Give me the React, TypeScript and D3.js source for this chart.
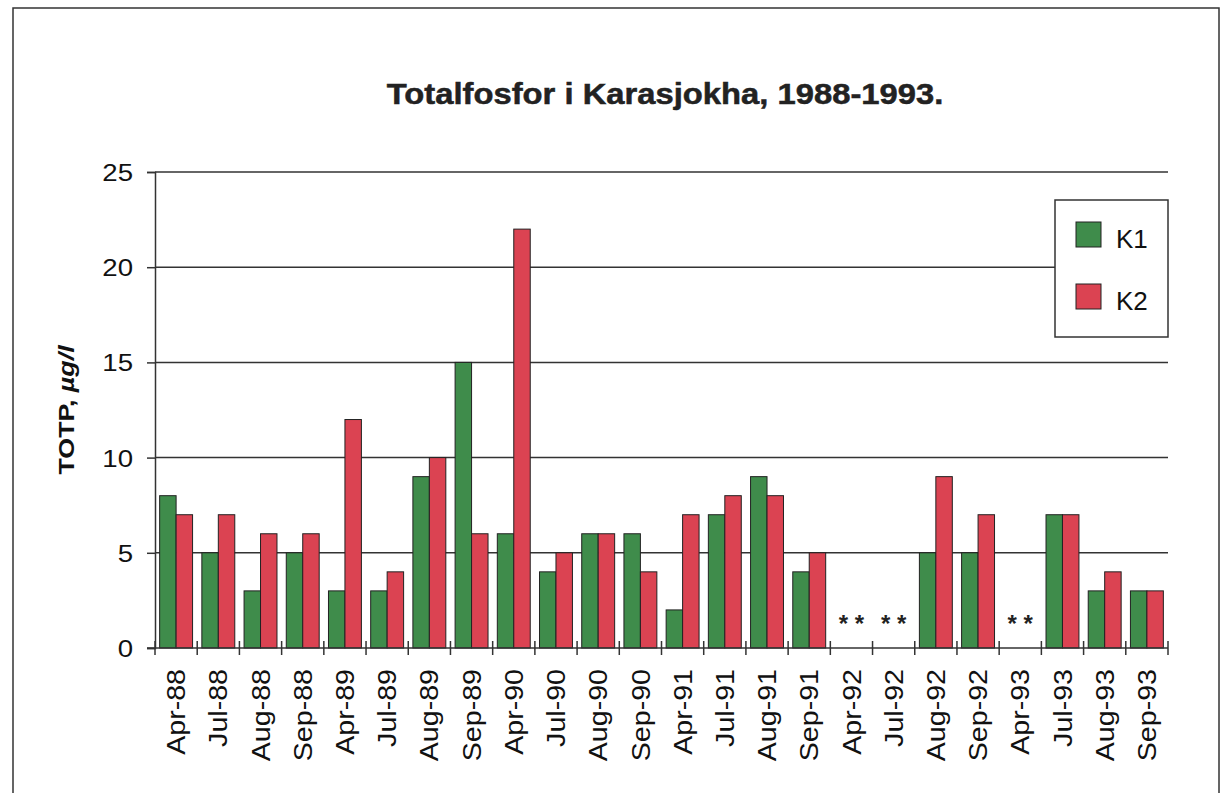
import React, { useRef, useEffect } from 'react';
import * as d3 from 'd3';

const categories = [
  'Apr-88', 'Jul-88', 'Aug-88', 'Sep-88',
  'Apr-89', 'Jul-89', 'Aug-89', 'Sep-89',
  'Apr-90', 'Jul-90', 'Aug-90', 'Sep-90',
  'Apr-91', 'Jul-91', 'Aug-91', 'Sep-91',
  'Apr-92', 'Jul-92', 'Aug-92', 'Sep-92',
  'Apr-93', 'Jul-93', 'Aug-93', 'Sep-93',
];

// null = no sample (shown as ** in the original)
const k1 = [8, 5, 3, 5, 3, 3, 9, 15, 6, 4, 6, 6, 2, 7, 9, 4, null, null, 5, 5, null, 7, 3, 3];
const k2 = [7, 7, 6, 6, 12, 4, 10, 6, 22, 5, 6, 4, 7, 8, 8, 5, null, null, 9, 7, null, 7, 4, 3];

const seriesNames = ['K1', 'K2'];
const yTicks = [0, 5, 10, 15, 20, 25];

const title = 'Totalfosfor i Karasjokha, 1988-1993.';

const colors: Record<string, string> = { K1: '#3f8c4b', K2: '#db4352' };
const font = '"Liberation Sans", Arial, Helvetica, sans-serif';

const App = () => {
  const ref = useRef<SVGSVGElement | null>(null);

  const width = 1222;
  const height = 793;

  useEffect(() => {
    if (!ref.current) return;

    const margin = { top: 172, right: 54, bottom: 145, left: 155 };
    const x0 = margin.left;
    const x1 = width - margin.right;
    const yBase = height - margin.bottom;

    const svg = d3.select(ref.current);
    svg.selectAll('*').remove();

    const rows = categories.map((c, i) => ({ name: c, K1: k1[i], K2: k2[i] }));

    const x = d3
      .scaleBand<string>()
      .domain(categories)
      .range([x0, x1])
      .paddingInner(0.22)
      .paddingOuter(0.11);

    const xs = d3.scaleBand<string>().domain(seriesNames).range([0, x.bandwidth()]);

    const y = d3.scaleLinear().domain([0, 25]).range([yBase, margin.top]);

    // outer frame
    svg
      .append('rect')
      .attr('x', 13)
      .attr('y', 8)
      .attr('width', 1206)
      .attr('height', 900)
      .attr('fill', 'none')
      .attr('stroke', '#333')
      .attr('stroke-width', 1.5);

    // title
    svg
      .append('text')
      .attr('transform', 'translate(665,104) scale(1.13,1)')
      .attr('text-anchor', 'middle')
      .attr('font-family', font)
      .attr('font-weight', 'bold')
      .attr('font-size', 29)
      .attr('fill', '#222')
      .attr('stroke', '#222')
      .attr('stroke-width', 0.5)
      .text(title);

    // gridlines
    svg
      .append('g')
      .selectAll('line')
      .data(yTicks.filter((t) => t > 0))
      .join('line')
      .attr('x1', x0)
      .attr('x2', x1)
      .attr('y1', (d) => y(d))
      .attr('y2', (d) => y(d))
      .attr('stroke', '#333')
      .attr('stroke-width', 1.5);

    // bars
    svg
      .append('g')
      .selectAll('g')
      .data(rows)
      .join('g')
      .attr('transform', (d) => `translate(${x(d.name)},0)`)
      .selectAll('rect')
      .data((d) =>
        seriesNames
          .map((key) => ({ key, value: (d as any)[key] as number | null }))
          .filter((v) => v.value !== null)
      )
      .join('rect')
      .attr('x', (d) => xs(d.key) || 0)
      .attr('y', (d) => y(d.value as number))
      .attr('width', xs.bandwidth())
      .attr('height', (d) => yBase - y(d.value as number))
      .attr('fill', (d) => colors[d.key])
      .attr('stroke', '#222')
      .attr('stroke-width', 1);

    // missing samples
    svg
      .append('g')
      .selectAll('text')
      .data(rows.filter((r) => r.K1 === null && r.K2 === null))
      .join('text')
      .attr('x', (d) => (x(d.name) || 0) + x.bandwidth() / 2)
      .attr('y', yBase - 16)
      .attr('text-anchor', 'middle')
      .attr('font-family', font)
      .attr('font-weight', 'bold')
      .attr('font-size', 24)
      .attr('fill', '#222')
      .text('* *');

    // y axis
    const yAxis = svg
      .append('g')
      .attr('transform', `translate(${x0},0)`)
      .call(d3.axisLeft(y).tickValues(yTicks).tickSize(8).tickFormat(d3.format('d')));
    yAxis.select('.domain').attr('stroke', '#333').attr('stroke-width', 1.5);
    yAxis.selectAll('.tick line').attr('stroke', '#333').attr('stroke-width', 1.5);
    yAxis
      .selectAll('.tick text')
      .attr('x', 0)
      .attr('dy', '0.35em')
      .attr('transform', 'translate(-22,0) scale(1.15,1)')
      .attr('font-family', font)
      .attr('font-size', 24)
      .attr('fill', '#111');

    // x axis line with cross ticks on category boundaries
    const gx = svg.append('g');
    gx.append('line')
      .attr('x1', x0 - 8)
      .attr('x2', x1)
      .attr('y1', yBase)
      .attr('y2', yBase)
      .attr('stroke', '#333')
      .attr('stroke-width', 1.5);
    gx.selectAll('line.tick')
      .data(d3.range(categories.length + 1))
      .join('line')
      .attr('class', 'tick')
      .attr('x1', (i) => x0 + i * x.step())
      .attr('x2', (i) => x0 + i * x.step())
      .attr('y1', yBase - 7)
      .attr('y2', yBase + 7)
      .attr('stroke', '#333')
      .attr('stroke-width', 1.5);

    gx.selectAll('text')
      .data(categories)
      .join('text')
      .attr(
        'transform',
        (d) => `translate(${(x(d) || 0) + x.bandwidth() / 2},${yBase + 21}) rotate(-90) scale(1.1,1)`
      )
      .attr('text-anchor', 'end')
      .attr('dy', '0.35em')
      .attr('font-family', font)
      .attr('font-size', 26)
      .attr('fill', '#111')
      .text((d) => d);

    // y title
    const yt = svg
      .append('text')
      .attr('transform', 'translate(74,410) rotate(-90) scale(1.22,1)')
      .attr('text-anchor', 'middle')
      .attr('font-family', font)
      .attr('font-weight', 'bold')
      .attr('font-size', 22)
      .attr('fill', '#111');
    yt.append('tspan').text('TOTP, ');
    yt.append('tspan').attr('font-style', 'italic').text('µg/l');

    // legend
    const lg = svg.append('g').attr('transform', 'translate(1055,200)');
    lg.append('rect')
      .attr('width', 113)
      .attr('height', 137)
      .attr('fill', '#fff')
      .attr('stroke', '#333')
      .attr('stroke-width', 1.5);
    const items = lg
      .selectAll('g')
      .data(seriesNames)
      .join('g')
      .attr('transform', (_, i) => `translate(21,${22 + i * 62})`);
    items
      .append('rect')
      .attr('width', 25)
      .attr('height', 25)
      .attr('fill', (d) => colors[d])
      .attr('stroke', '#222')
      .attr('stroke-width', 1);
    items
      .append('text')
      .attr('x', 40)
      .attr('y', 26)
      .attr('font-family', font)
      .attr('font-size', 26)
      .attr('fill', '#111')
      .text((d) => d);
  });

  return (
    <svg
      ref={ref}
      width={width}
      height={height}
      viewBox={`0 0 ${width} ${height}`}
      style={{ position: 'absolute', left: 0, top: 0, display: 'block', background: '#fff' }}
    />
  );
};

export default App;
